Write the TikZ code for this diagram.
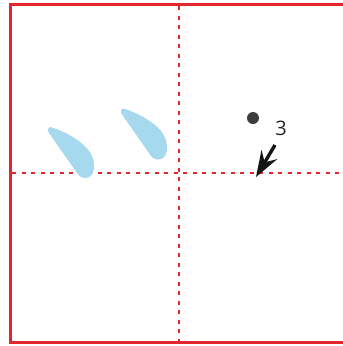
\documentclass[tikz,border=0pt]{standalone}
\usepackage{fontspec}
\setmainfont{Open Sans}
\usetikzlibrary{arrows.meta}
\definecolor{gridred}{HTML}{E3262B}
\definecolor{dropblue}{HTML}{A6D9EE}
\definecolor{dotgray}{HTML}{3C3C3C}
\begin{document}
\begin{tikzpicture}[x=1pt,y=-1pt,
  frame/.style={draw=gridred,line width=3pt},
  guide/.style={draw=gridred,line width=2.8pt,dash pattern=on 4pt off 5.5pt},
  drop/.style={fill=dropblue,draw=none},
  pointer/.style={draw=black!92,line width=3.4pt,-{Stealth[length=26pt,width=18pt,inset=9pt]}}]
\useasboundingbox (0,0) rectangle (343,346);
\path[frame] (10,343.5) -- (10,4) -- (345,4);
\path[frame] (8.5,342) -- (345,342);
\path[guide] (179,6) -- (179,342);
\path[guide] (12,173) -- (343,173);
% left drop
\path[drop] (50,127) .. controls (62,130) and (84,141) .. (91,154)
  .. controls (97,166) and (94,178) .. (85,178)
  .. controls (81,178) and (79,176) .. (77,173)
  .. controls (68,160) and (58,146) .. (49,133)
  .. controls (47,130) and (48,127) .. (50,127) -- cycle;
% right drop
\begin{scope}[shift={(73,-18.5)}]
\path[drop] (50,127) .. controls (62,130) and (84,141) .. (91,154)
  .. controls (97,166) and (94,178) .. (85,178)
  .. controls (81,178) and (79,176) .. (77,173)
  .. controls (68,160) and (58,146) .. (49,133)
  .. controls (47,130) and (48,127) .. (50,127) -- cycle;
\end{scope}
\node[circle,fill=dotgray,inner sep=0pt,minimum size=12pt] (dot) at (253,118) {};
\node[font=\fontsize{20}{24}\selectfont,text=black!85] (num) at (281,128) {3};
\coordinate (from) at (275,145);
\coordinate (to) at (256,177);
\draw[pointer] (from) -- (to);
\end{tikzpicture}
\end{document}
